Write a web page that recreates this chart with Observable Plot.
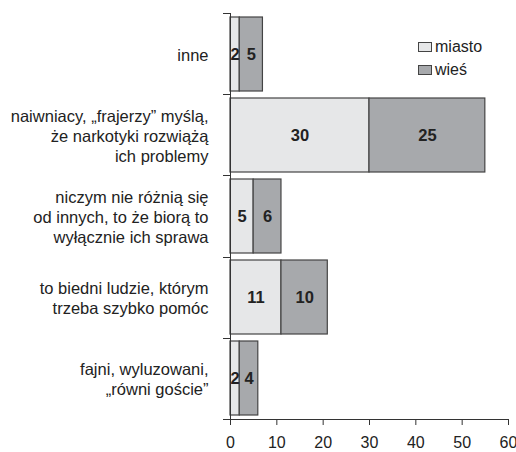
<!DOCTYPE html>
<html>
<head>
<meta charset="utf-8">
<script src="https://cdn.jsdelivr.net/npm/d3@7"></script>
<script src="https://cdn.jsdelivr.net/npm/@observablehq/plot@0.6"></script>
<style>
  html, body { margin: 0; padding: 0; background: #fff; }
  #wrap { position: relative; width: 516px; height: 452px; font-family: "Liberation Sans", Arial, sans-serif; }
  .legend { position: absolute; left: 418px; top: 35px; font-size: 16px; color: #222; line-height: 23px; }
  .legend .row { display: flex; align-items: center; }
  .legend .sw { width: 12px; height: 8px; border: 1px solid #444; margin-right: 3px; }
</style>
</head>
<body>
<div id="wrap"></div>
<script>
const categories = [
  "inne",
  "naiwniacy, „frajerzy” myślą,\nże narkotyki rozwiążą\nich problemy",
  "niczym nie różnią się\nod innych, to że biorą to\nwyłącznie ich sprawa",
  "to biedni ludzie, którym\ntrzeba szybko pomóc",
  "fajni, wyluzowani,\n„równi goście”"
];
const miasto = [2, 30, 5, 11, 2];
const wies = [5, 25, 6, 10, 4];
const seriesNames = ["miasto", "wieś"];
const seriesColors = ["#e6e7e8", "#a7a9ac"];
const xTicks = [0, 10, 20, 30, 40, 50, 60];

const data = [];
categories.forEach((c, i) => {
  data.push({cat: c, series: "miasto", value: miasto[i]});
  data.push({cat: c, series: "wieś", value: wies[i]});
});

function frameLines(index, scales, values, dim) {
  const ns = "http://www.w3.org/2000/svg";
  const g = document.createElementNS(ns, "g");
  g.setAttribute("stroke", "#333");
  g.setAttribute("stroke-width", "1");
  const top = dim.marginTop, bottom = dim.height - dim.marginBottom;
  const left = dim.marginLeft, right = dim.width - dim.marginRight;
  const n = scales.y.domain ? scales.y.domain().length : categories.length;
  const line = (x1, y1, x2, y2) => {
    const l = document.createElementNS(ns, "line");
    l.setAttribute("x1", x1); l.setAttribute("y1", y1);
    l.setAttribute("x2", x2); l.setAttribute("y2", y2);
    g.appendChild(l);
  };
  line(left + 0.5, top, left + 0.5, bottom);
  line(left, bottom + 0.5, right, bottom + 0.5);
  for (let i = 0; i <= n; i++) {
    const yy = Math.round(top + i * (bottom - top) / n) + 0.5;
    line(left - 7, yy, left, yy);
  }
  return g;
}

const chart = Plot.plot({
  width: 516,
  height: 452,
  marginTop: 13,
  marginBottom: 33,
  marginLeft: 230,
  marginRight: 8,
  style: {fontFamily: "'Liberation Sans', Arial, sans-serif", color: "#222", background: "#fff"},
  x: {domain: [0, 60]},
  y: {domain: categories, paddingInner: 0.086, paddingOuter: 0.043},
  color: {domain: seriesNames, range: seriesColors},
  marks: [
    Plot.barX(data, Plot.stackX({x: "value", y: "cat", fill: "series", stroke: "#444", strokeWidth: 1.2, order: seriesNames})),
    Plot.text(data, Plot.stackX({x: "value", y: "cat", z: "series", text: d => String(d.value), order: seriesNames, fontSize: 16.5, fontWeight: "bold", fill: "#222"})),
    Plot.axisY({tickSize: 0, tickPadding: 22, fontSize: 16.5, lineHeight: 1.212, textAnchor: "end", label: null}),
    Plot.axisX({ticks: xTicks, tickSize: 6, tickPadding: 11, fontSize: 16, label: null, stroke: "#333"}),
    frameLines
  ]
});

const wrap = document.getElementById("wrap");
wrap.appendChild(chart);
const legend = document.createElement("div");
legend.className = "legend";
seriesNames.forEach((s, i) => {
  const row = document.createElement("div");
  row.className = "row";
  const sw = document.createElement("div");
  sw.className = "sw";
  sw.style.background = seriesColors[i];
  const t = document.createElement("span");
  t.textContent = s;
  row.appendChild(sw); row.appendChild(t);
  legend.appendChild(row);
});
wrap.appendChild(legend);
</script>
</body>
</html>
